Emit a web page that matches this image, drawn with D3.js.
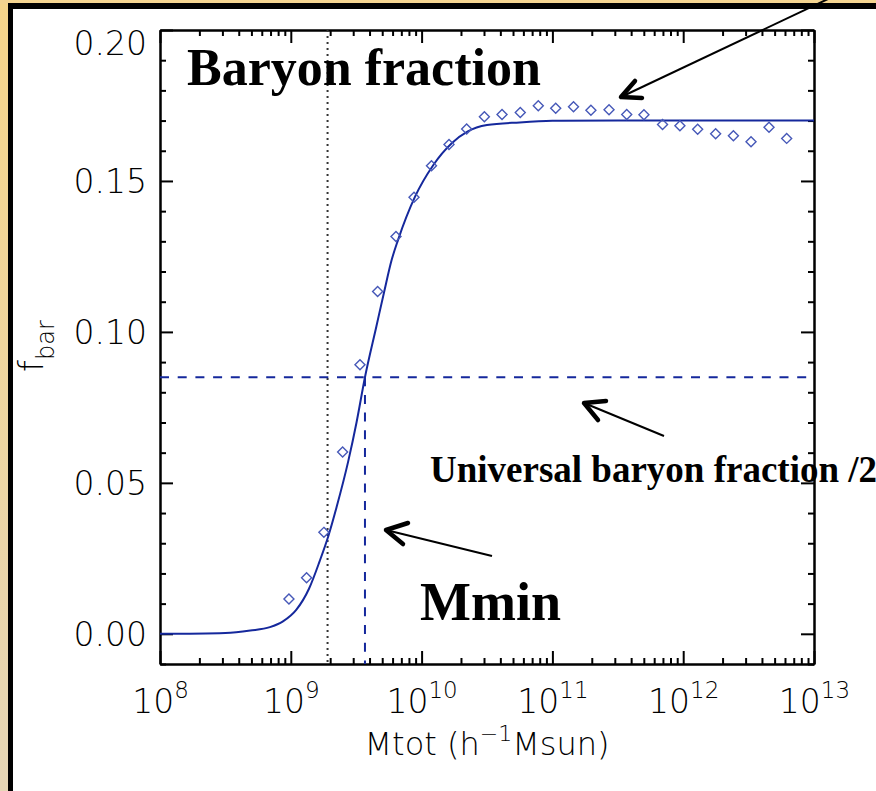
<!DOCTYPE html>
<html>
<head>
<meta charset="utf-8">
<script src="https://cdn.jsdelivr.net/npm/d3@7"></script>
<style>
  body { margin: 0; background: #fff; }
  svg { display: block; }
</style>
</head>
<body>
<svg id="chart" width="876" height="791"></svg>
<script>
// simulated baryon fraction per halo mass bin (diamonds)
const massBins = [9.68e8, 1.32e9, 1.79e9, 2.49e9, 3.38e9, 4.61e9, 6.37e9, 8.75e9, 1.19e10, 1.62e10,
  2.21e10, 3.02e10, 4.12e10, 5.68e10, 7.80e10, 1.06e11, 1.45e11, 1.97e11, 2.71e11, 3.70e11,
  5.01e11, 6.95e11, 9.44e11, 1.29e12, 1.77e12, 2.42e12, 3.30e12, 4.53e12, 6.18e12]
const fbarSim = [0.0115, 0.0186, 0.0336, 0.0602, 0.0891, 0.1134, 0.1316, 0.1446, 0.1550, 0.1621,
  0.1672, 0.1713, 0.1720, 0.1727, 0.1749, 0.1741, 0.1746, 0.1734, 0.1736, 0.1720,
  0.1719, 0.1687, 0.1683, 0.1671, 0.1656, 0.1650, 0.1630, 0.1678, 0.1641]

// fitted curve
const fitMass = [1e8, 3.16e8, 4.90e8, 6.92e8, 8.71e8, 1.10e9, 1.38e9, 1.66e9, 1.94e9, 2.24e9,
  2.75e9, 3.18e9, 3.69e9, 4.51e9, 5.18e9, 5.90e9, 6.61e9, 8.91e9, 1.23e10, 1.70e10,
  2.24e10, 3.16e10, 5.62e10, 1e11, 3.16e11, 1e12, 1e13]
const fitFbar = [0.0, 0.0003, 0.0011, 0.0022, 0.0041, 0.0079, 0.0150, 0.0240, 0.0325, 0.0420,
  0.0572, 0.0700, 0.0850, 0.1018, 0.1134, 0.1238, 0.1305, 0.1448, 0.1553, 0.1625,
  0.1663, 0.1685, 0.1694, 0.1699, 0.1700, 0.1700, 0.1700]

const halfUniversal = 0.085   // horizontal dashed line
const massMin = 3.69e9        // vertical dashed line
const massRes = 1.91e9        // vertical dotted line

const yTicks = [0, 0.05, 0.10, 0.15, 0.20]
const xDecades = [8, 9, 10, 11, 12, 13]

const svg = d3.select("#chart")
const W = 876, H = 791
const plotL = 160, plotR = 814, plotT = 30, plotB = 664
const lineBlue = "#15289c"
const dotBlue = "#4658b8"

// frame: tan edge + thick black border
const defs = svg.append("defs")
const grad = defs.append("linearGradient").attr("id", "tan")
  .attr("x1", 0).attr("y1", 0).attr("x2", 0).attr("y2", 1)
grad.append("stop").attr("offset", "0%").attr("stop-color", "#f6d58a")
grad.append("stop").attr("offset", "100%").attr("stop-color", "#e6d6b6")
svg.append("rect").attr("width", W).attr("height", H).attr("fill", "#fff")
svg.append("rect").attr("x", 0).attr("y", 0).attr("width", 9).attr("height", H).attr("fill", "url(#tan)")
svg.append("rect").attr("x", 0).attr("y", 0).attr("width", W).attr("height", 4).attr("fill", "#f4d490")
svg.append("rect").attr("x", 8).attr("y", 3).attr("width", W - 8).attr("height", 6).attr("fill", "#000")
svg.append("rect").attr("x", 8).attr("y", 3).attr("width", 5).attr("height", H - 3).attr("fill", "#000")

// scales
const x = d3.scaleLog().domain([1e8, 1e13]).range([plotL, plotR])
const y = d3.scaleLinear().domain([-0.01, 0.20]).range([plotB, plotT])

const minorX = []
xDecades.slice(0, -1).forEach(e => { for (let k = 2; k < 10; k++) minorX.push(k * Math.pow(10, e)) })
const majorX = xDecades.map(e => Math.pow(10, e))
const minorY = d3.range(-1, 21).filter(i => i % 5 !== 0).map(i => i / 100)

const tickFont = "'DejaVu Sans', sans-serif"
const fs = 33

function styleAxis(g) {
  g.select(".domain").attr("stroke", "#000").attr("stroke-width", 2)
  g.selectAll(".tick line").attr("stroke", "#000").attr("stroke-width", 2)
}

// minor ticks on all sides
svg.append("g").attr("transform", `translate(0,${plotB})`)
  .call(d3.axisBottom(x).tickValues(minorX).tickSize(-6).tickSizeOuter(0).tickFormat(""))
  .call(styleAxis)
svg.append("g").attr("transform", `translate(0,${plotT})`)
  .call(d3.axisTop(x).tickValues(minorX).tickSize(-6).tickSizeOuter(0).tickFormat(""))
  .call(styleAxis)
svg.append("g").attr("transform", `translate(${plotL},0)`)
  .call(d3.axisLeft(y).tickValues(minorY).tickSize(-6).tickSizeOuter(0).tickFormat(""))
  .call(styleAxis)
svg.append("g").attr("transform", `translate(${plotR},0)`)
  .call(d3.axisRight(y).tickValues(minorY).tickSize(-6).tickSizeOuter(0).tickFormat(""))
  .call(styleAxis)

// major ticks
const xAxis = svg.append("g").attr("transform", `translate(0,${plotB})`)
  .call(d3.axisBottom(x).tickValues(majorX).tickSize(-13).tickSizeOuter(0))
  .call(styleAxis)
xAxis.selectAll(".tick text").each(function (d) {
  const t = d3.select(this).text(null)
    .attr("y", 49).attr("dy", null)
    .attr("font-family", tickFont).attr("font-weight", 200).attr("font-size", fs).attr("fill", "#000")
  t.append("tspan").text("10")
  t.append("tspan").attr("dy", -15).attr("font-size", 23).text(Math.round(Math.log10(d)))
})
svg.append("g").attr("transform", `translate(0,${plotT})`)
  .call(d3.axisTop(x).tickValues(majorX).tickSize(-13).tickSizeOuter(0).tickFormat(""))
  .call(styleAxis)
const yAxis = svg.append("g").attr("transform", `translate(${plotL},0)`)
  .call(d3.axisLeft(y).tickValues(yTicks).tickSize(-13).tickSizeOuter(0).tickPadding(13).tickFormat(d3.format(".2f")))
  .call(styleAxis)
yAxis.selectAll(".tick text")
  .attr("font-family", tickFont).attr("font-weight", 200).attr("font-size", fs).attr("fill", "#000")
  .attr("dy", d => d === 0.20 ? "0.75em" : "0.36em")
svg.append("g").attr("transform", `translate(${plotR},0)`)
  .call(d3.axisRight(y).tickValues(yTicks).tickSize(-13).tickSizeOuter(0).tickFormat(""))
  .call(styleAxis)

// axis titles
svg.append("text")
  .attr("x", (plotL + plotR) / 2).attr("y", 755)
  .attr("text-anchor", "middle")
  .attr("font-family", tickFont).attr("font-weight", 200).attr("font-size", 32)
  .call(t => {
    t.append("tspan").text("Mtot (h")
    t.append("tspan").attr("dy", -14).attr("font-size", 22).text("\u22121")
    t.append("tspan").attr("dy", 14).text("Msun)")
  })
svg.append("text")
  .attr("transform", "translate(43,346) rotate(-90)")
  .attr("text-anchor", "middle")
  .attr("font-family", tickFont).attr("font-weight", 200).attr("font-size", 34)
  .call(t => {
    t.append("tspan").text("f")
    t.append("tspan").attr("dy", 11).attr("font-size", 24).text("bar")
  })

// reference lines
svg.append("line")
  .attr("x1", x(massRes)).attr("x2", x(massRes)).attr("y1", plotT).attr("y2", plotB)
  .attr("stroke", "#333").attr("stroke-width", 2).attr("stroke-dasharray", "2 4")
svg.append("line")
  .attr("x1", plotL).attr("x2", plotR).attr("y1", y(halfUniversal)).attr("y2", y(halfUniversal))
  .attr("stroke", lineBlue).attr("stroke-width", 2).attr("stroke-dasharray", "9 8.7")
svg.append("line")
  .attr("x1", x(massMin)).attr("x2", x(massMin)).attr("y1", y(halfUniversal)).attr("y2", plotB)
  .attr("stroke", lineBlue).attr("stroke-width", 2).attr("stroke-dasharray", "9 8.7")

// fitted curve
const line = d3.line()
  .x((d, i) => x(fitMass[i]))
  .y(d => y(d))
  .curve(d3.curveMonotoneX)
svg.append("path")
  .datum(fitFbar)
  .attr("d", line)
  .attr("fill", "none").attr("stroke", lineBlue).attr("stroke-width", 2)

// diamonds
svg.append("g").selectAll("path")
  .data(fbarSim)
  .join("path")
  .attr("transform", (d, i) => `translate(${x(massBins[i])},${y(d)})`)
  .attr("d", "M0,-5L5,0L0,5L-5,0Z")
  .attr("fill", "none").attr("stroke", dotBlue).attr("stroke-width", 1.4)

// annotations
const serif = "'Liberation Serif', 'Times New Roman', serif"
svg.append("text").attr("x", 187).attr("y", 85)
  .attr("font-family", serif).attr("font-weight", "bold").attr("font-size", 52)
  .text("Baryon fraction")
svg.append("text").attr("x", 430).attr("y", 482)
  .attr("font-family", serif).attr("font-weight", "bold").attr("font-size", 37)
  .text("Universal baryon fraction /2")
svg.append("text").attr("x", 420).attr("y", 620)
  .attr("font-family", serif).attr("font-weight", "bold").attr("font-size", 54)
  .text("Mmin")

// arrows: shaft from tail to tip, plus an open head
function arrow(tail, tip, arm1, arm2) {
  svg.append("line")
    .attr("x1", tail[0]).attr("y1", tail[1]).attr("x2", tip[0]).attr("y2", tip[1])
    .attr("stroke", "#000").attr("stroke-width", 2)
  svg.append("path")
    .attr("d", `M${arm1[0]},${arm1[1]}L${tip[0]},${tip[1]}L${arm2[0]},${arm2[1]}`)
    .attr("fill", "none").attr("stroke", "#000").attr("stroke-width", 4.5)
    .attr("stroke-linecap", "round").attr("stroke-linejoin", "round")
}
arrow([828, -1], [621, 97], [635, 81], [642, 98])
arrow([664, 436], [584, 403], [606, 401], [598, 420])
arrow([492, 556], [386, 530], [408, 523], [403, 544])
</script>
</body>
</html>
